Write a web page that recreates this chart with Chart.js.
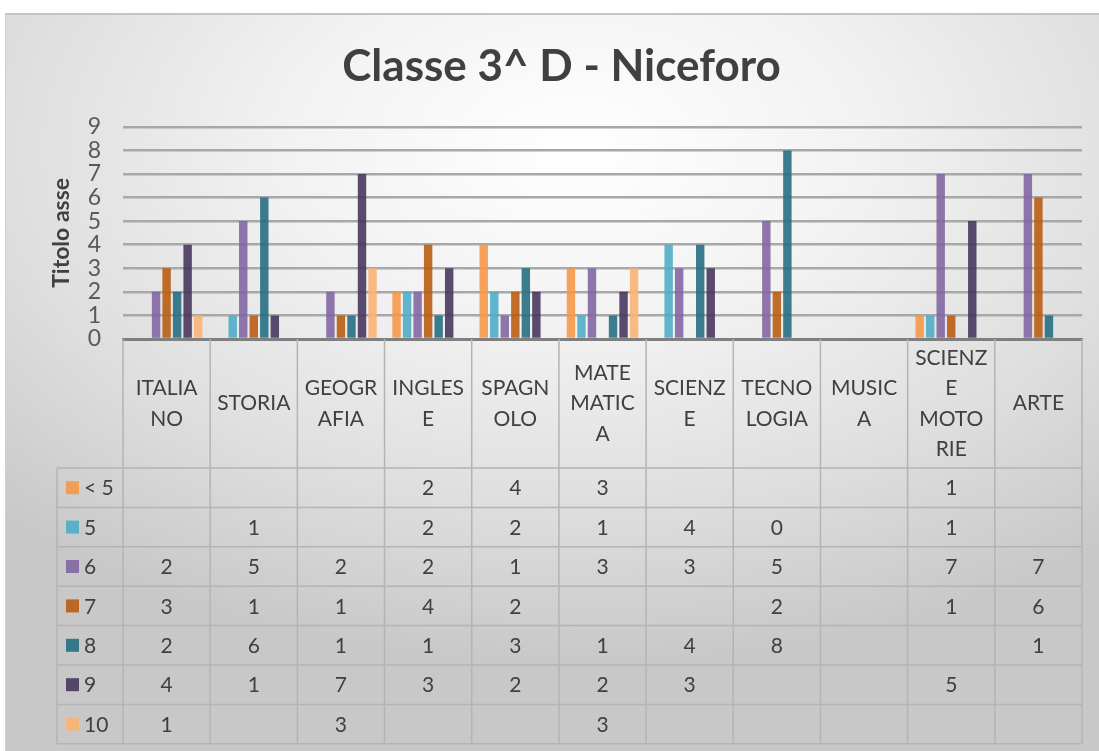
<!DOCTYPE html>
<html>
<head>
<meta charset="utf-8">
<script src="https://cdn.jsdelivr.net/npm/chart.js@4.4.1/dist/chart.umd.min.js"></script>
<style>
  html, body { margin: 0; padding: 0; background: #fff; }
  #wrap { position: relative; width: 1099px; height: 751px; overflow: hidden; }
  #frame {
    position: absolute; left: 5px; top: 13px; right: -4px; bottom: 0;
    border-top: 2px solid #c4c4c4; border-left: 1px solid #d0d0d0;
    background: radial-gradient(ellipse 75% 70% at 52% 18%, #ffffff 0%, #f2f2f2 35%, #dedede 70%, #c8c8c8 100%);
  }
  canvas { position: absolute; left: 0; top: 0; }
</style>
</head>
<body>
<div id="wrap">
  <div id="frame"></div>
  <canvas id="chart" width="1099" height="751"></canvas>
</div>
<script>
const categories = [
  ['ITALIA', 'NO'], ['STORIA'], ['GEOGR', 'AFIA'], ['INGLES', 'E'], ['SPAGN', 'OLO'],
  ['MATE', 'MATIC', 'A'], ['SCIENZ', 'E'], ['TECNO', 'LOGIA'], ['MUSIC', 'A'],
  ['SCIENZ', 'E', 'MOTO', 'RIE'], ['ARTE']
];
const seriesNames = ['< 5', '5', '6', '7', '8', '9', '10'];
const below5  = [null, null, null, 2, 4, 3, null, null, null, 1, null];
const grade5  = [null, 1, null, 2, 2, 1, 4, 0, null, 1, null];
const grade6  = [2, 5, 2, 2, 1, 3, 3, 5, null, 7, 7];
const grade7  = [3, 1, 1, 4, 2, null, null, 2, null, 1, 6];
const grade8  = [2, 6, 1, 1, 3, 1, 4, 8, null, null, 1];
const grade9  = [4, 1, 7, 3, 2, 2, 3, null, null, 5, null];
const grade10 = [1, null, 3, null, null, 3, null, null, null, null, null];
const yTicks = [0, 1, 2, 3, 4, 5, 6, 7, 8, 9];

const seriesData = [below5, grade5, grade6, grade7, grade8, grade9, grade10];
const colors = [
  'rgba(247,150,70,0.88)', 'rgba(75,172,198,0.88)', 'rgba(128,100,162,0.88)',
  'rgba(186,90,14,0.88)', 'rgba(33,108,128,0.88)', 'rgba(68,50,90,0.88)',
  'rgba(250,180,118,0.9)'
];
const FONT = 'Lato, "Open Sans", sans-serif';

// nudge the title a little to the right, like the original
const titleShift = {
  id: 'titleShift',
  afterLayout(chart) {
    if (chart.titleBlock) chart.titleBlock.left += 36;
  }
};

// draws the data table under the plot, aligned with the category scale
const dataTable = {
  id: 'dataTable',
  afterDraw(chart) {
    const ctx = chart.ctx;
    const xs = chart.scales.x;
    const n = categories.length;
    const colW = (xs.right - xs.left) / n;
    const top = chart.chartArea.bottom;
    const headBottom = 468;
    const rowH = 39.4;
    const legendLeft = 57;
    const bottom = headBottom + rowH * seriesNames.length;

    ctx.save();
    ctx.strokeStyle = '#b4b4b4';
    ctx.lineWidth = 1.5;
    ctx.beginPath();
    for (let i = 0; i <= n; i++) {
      const x = xs.left + i * colW;
      ctx.moveTo(x, top); ctx.lineTo(x, bottom);
    }
    ctx.moveTo(legendLeft, headBottom); ctx.lineTo(legendLeft, bottom);
    for (let r = 0; r <= seriesNames.length; r++) {
      const y = headBottom + r * rowH;
      ctx.moveTo(legendLeft, y); ctx.lineTo(xs.right, y);
    }
    ctx.stroke();

    ctx.fillStyle = '#404040';
    ctx.font = '21px ' + FONT;
    ctx.textAlign = 'center';
    ctx.textBaseline = 'middle';
    const lineH = 30.5;
    categories.forEach((lines, i) => {
      const cx = xs.getPixelForValue(i);
      const cy = (top + headBottom) / 2;
      lines.forEach((t, k) => {
        ctx.fillText(t, cx, cy + (k - (lines.length - 1) / 2) * lineH);
      });
    });

    seriesNames.forEach((name, r) => {
      const cy = headBottom + r * rowH + rowH / 2;
      ctx.fillStyle = colors[r];
      ctx.fillRect(66, cy - 6.5, 13, 13);
      ctx.fillStyle = '#404040';
      ctx.textAlign = 'left';
      ctx.fillText(name, 84, cy + 1);
      ctx.textAlign = 'center';
      seriesData[r].forEach((v, i) => {
        if (v !== null) ctx.fillText(String(v), xs.getPixelForValue(i), cy + 1);
      });
    });
    ctx.restore();
  }
};

new Chart(document.getElementById('chart').getContext('2d'), {
  type: 'bar',
  data: {
    labels: categories.map(c => c.join('')),
    datasets: seriesNames.map((name, i) => ({
      label: name,
      data: seriesData[i],
      backgroundColor: colors[i],
      borderWidth: 0,
      categoryPercentage: 0.845,
      barPercentage: 0.8
    }))
  },
  options: {
    responsive: false,
    animation: false,
    layout: { padding: { top: 13, left: 5, right: 17, bottom: 412 } },
    plugins: {
      legend: { display: false },
      tooltip: { enabled: false },
      title: {
        display: true,
        text: 'Classe 3^ D - Niceforo',
        color: '#404040',
        font: { family: FONT, size: 44, weight: 'bold' },
        padding: { top: 27, bottom: 34 }
      }
    },
    scales: {
      x: {
        ticks: { display: false },
        grid: { display: false },
        border: { display: true, color: '#7f7f7f', width: 3 },
        afterFit(scale) { scale.height = 0; }
      },
      y: {
        min: 0,
        max: 9,
        afterBuildTicks(scale) { scale.ticks = yTicks.map(v => ({ value: v })); },
        afterFit(scale) { scale.width = 118; },
        ticks: { color: '#595959', font: { family: FONT, size: 23 }, padding: 22, autoSkip: false },
        grid: {
          drawTicks: false,
          color: ctx => ctx.tick.value === 0 ? 'rgba(0,0,0,0)' : '#a8a8a8',
          lineWidth: 2.5
        },
        border: { display: false },
        title: {
          display: true,
          text: 'Titolo asse',
          color: '#404040',
          font: { family: FONT, size: 23, weight: 'bold' },
          padding: { top: 43, bottom: 0 }
        }
      }
    }
  },
  plugins: [titleShift, dataTable]
});
</script>
</body>
</html>
